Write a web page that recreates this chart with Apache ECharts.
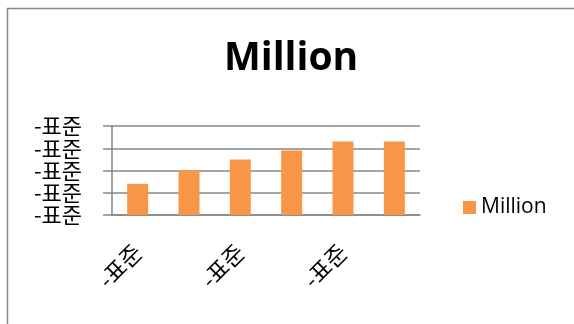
<!DOCTYPE html>
<html>
<head>
<meta charset="utf-8">
<script src="https://cdn.jsdelivr.net/npm/echarts@6/dist/echarts.min.js"></script>
<style>
    html, body { margin: 0; padding: 0; background: #fff; }
    #chart { width: 574px; height: 324px; }
</style>
</head>
<body>
<div id="chart"></div>
<script>
// data
const categories = ['-표준', '-표준', '-표준', '-표준', '-표준', '-표준']
const million = [1.4, 2.0, 2.5, 2.9, 3.3, 3.3]
const yTickLabel = '-표준'

const myChart = echarts.init(document.getElementById('chart'))
const gray = '#878787'
myChart.setOption({
    animation: false,
    title: {
        text: 'Million',
        left: 224,
        top: 39,
        padding: 0,
        textStyle: {
            fontFamily: 'Open Sans',
            fontWeight: 'bold',
            fontSize: 39,
            color: '#000'
        }
    },
    legend: {
        data: ['Million'],
        left: 463,
        top: 197,
        padding: 0,
        icon: 'rect',
        itemWidth: 13,
        itemHeight: 13,
        itemGap: 7,
        textStyle: {
            fontFamily: 'Open Sans',
            fontSize: 21,
            color: '#000',
            padding: [0, 0, 0, 0]
        }
    },
    graphic: [
        {
            type: 'rect',
            shape: { x: 7.5, y: 8.5, width: 700, height: 500 },
            style: { fill: 'none', stroke: gray, lineWidth: 1.5 },
            silent: true
        }
    ],
    grid: {
        left: 112,
        right: 154,
        top: 126,
        bottom: 109
    },
    xAxis: {
        type: 'category',
        data: categories,
        axisLine: {
            lineStyle: { color: gray, width: 1.5 }
        },
        axisTick: {
            interval: 1,
            length: 8,
            lineStyle: { color: gray, width: 1.5 }
        },
        axisLabel: {
            interval: 1,
            rotate: 45,
            margin: 33,
            fontFamily: 'Noto Sans CJK KR',
            fontSize: 23,
            color: '#000'
        }
    },
    yAxis: {
        type: 'value',
        min: 0,
        max: 4,
        interval: 1,
        axisLine: {
            show: true,
            lineStyle: { color: gray, width: 1.5 }
        },
        axisTick: {
            show: true,
            length: 9,
            lineStyle: { color: gray, width: 1.5 }
        },
        splitLine: {
            lineStyle: { color: gray, width: 1.5 }
        },
        axisLabel: {
            margin: 30,
            hideOverlap: false,
            showMinLabel: true,
            showMaxLabel: true,
            formatter: () => yTickLabel,
            fontFamily: 'Noto Sans CJK KR',
            fontSize: 22,
            lineHeight: 22,
            color: '#000'
        }
    },
    series: [
        {
            name: 'Million',
            type: 'bar',
            data: million,
            barWidth: 21,
            itemStyle: { color: '#F79646' }
        }
    ]
})
</script>
</body>
</html>
